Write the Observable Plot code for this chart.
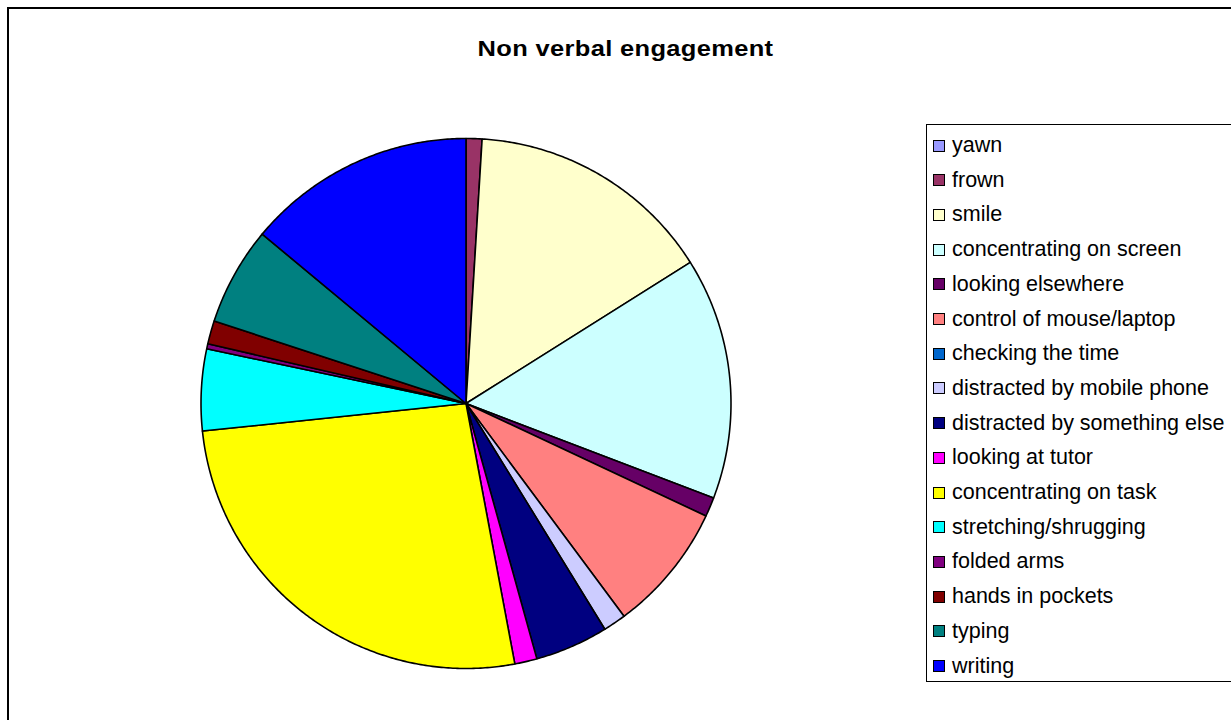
<!DOCTYPE html>
<html><head><meta charset="utf-8">
<script src="https://cdn.jsdelivr.net/npm/d3@7"></script>
<script src="https://cdn.jsdelivr.net/npm/@observablehq/plot@0.6"></script>
<style>
html,body{margin:0;padding:0;background:#fff;overflow:hidden;}
#wrap{position:relative;width:1231px;height:720px;overflow:hidden;font-family:"Liberation Sans",Arial,sans-serif;color:#000;}
#wrap svg{position:absolute;left:0;top:0;}
#frame{position:absolute;left:7px;top:7px;width:1400px;height:900px;border:2px solid #000;box-sizing:border-box;}
#title{position:absolute;left:0;width:1251px;top:37px;text-align:center;font-weight:bold;font-size:22px;line-height:24px;letter-spacing:0.3px;transform:scaleX(1.157);transform-origin:625.5px 50%;}
#legend{position:absolute;left:926px;top:124px;width:400px;height:558px;border:1px solid #000;box-sizing:border-box;background:#fff;}
.row{position:absolute;left:6px;height:24px;display:flex;align-items:center;font-size:21.5px;white-space:nowrap;}
.sw{width:10px;height:10px;border:1px solid #000;margin-right:7px;flex:none;}
</style></head><body>
<div id="wrap"></div>
<script>
const categories = ["yawn","frown","smile","concentrating on screen","looking elsewhere","control of mouse/laptop","checking the time","distracted by mobile phone","distracted by something else","looking at tutor","concentrating on task","stretching/shrugging","folded arms","hands in pockets","typing","writing"];
const values = [0, 0.97, 15.1, 14.75, 1.17, 7.86, 0, 1.39, 4.47, 1.36, 26.3, 4.97, 0.31, 1.42, 6.0, 13.97];
const colors = ["#9999FF","#993366","#FFFFCC","#CCFFFF","#660066","#FF8080","#0066CC","#CCCCFF","#000080","#FF00FF","#FFFF00","#00FFFF","#800080","#800000","#008080","#0000FF"];
const titleText = "Non verbal engagement";

const arcs = d3.pie().sort(null).value(d => d)(values);
const pts = [];
arcs.forEach((a, i) => {
  const span = a.endAngle - a.startAngle;
  if (span <= 0) return;
  const n = Math.max(2, Math.ceil(span / (Math.PI / 360)));
  pts.push({k: categories[i], c: colors[i], x: 0, y: 0});
  for (let j = 0; j <= n; j++) {
    const t = a.startAngle + span * j / n;
    pts.push({k: categories[i], c: colors[i], x: Math.sin(t), y: Math.cos(t)});
  }
  pts.push({k: categories[i], c: colors[i], x: 0, y: 0});
});

const W = 1231, H = 720, cx = 465.5, cy = 403, R = 265;
const chart = Plot.plot({
  width: W, height: H, margin: 0,
  x: {domain: [-cx / R, (W - cx) / R], axis: null},
  y: {domain: [-(H - cy) / R, cy / R], axis: null},
  color: {type: "identity"},
  marks: [
    Plot.line(pts, {x: "x", y: "y", z: "k", fill: "c", stroke: "#000", strokeWidth: 1.6, strokeLinejoin: "round"})
  ]
});
const wrap = document.getElementById("wrap");
wrap.appendChild(chart);

const frame = document.createElement("div"); frame.id = "frame"; wrap.appendChild(frame);
const title = document.createElement("div"); title.id = "title"; title.textContent = titleText; wrap.appendChild(title);
const legend = document.createElement("div"); legend.id = "legend"; wrap.appendChild(legend);
categories.forEach((c, i) => {
  const row = document.createElement("div");
  row.className = "row";
  row.style.top = (144.5 - 124 - 12 + i * 34.7) + "px";
  const sw = document.createElement("div"); sw.className = "sw"; sw.style.background = colors[i];
  const tx = document.createElement("span"); tx.textContent = c;
  row.appendChild(sw); row.appendChild(tx);
  legend.appendChild(row);
});
</script>
</body></html>
